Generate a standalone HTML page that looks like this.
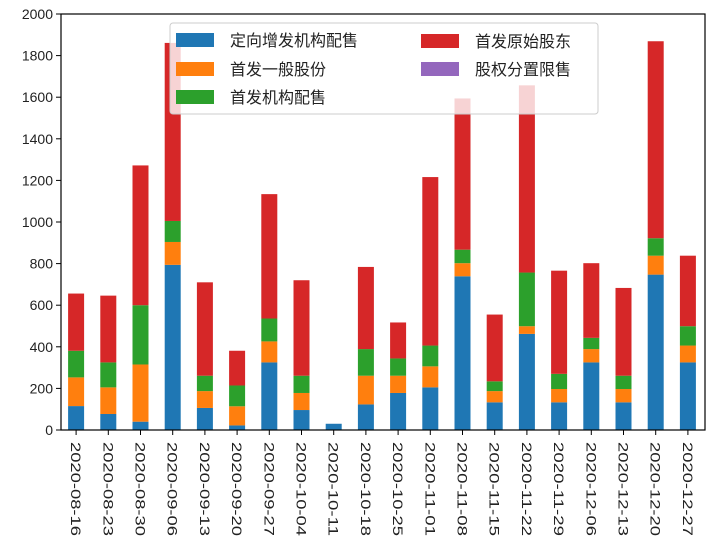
<!DOCTYPE html>
<html><head><meta charset="utf-8"><style>
body{margin:0;background:#fff;}
svg{display:block;font-family:"Liberation Sans","Noto Sans CJK SC",sans-serif;}
</style></head><body>
<svg id="chart" width="708" height="549" viewBox="0 0 708 549" xmlns="http://www.w3.org/2000/svg">
<g id="bars"></g>
<g id="axes"></g>
<g id="legend"></g>
</svg>
<script>
const categories=["2020-08-16","2020-08-23","2020-08-30","2020-09-06","2020-09-13","2020-09-20","2020-09-27","2020-10-04","2020-10-11","2020-10-18","2020-10-25","2020-11-01","2020-11-08","2020-11-15","2020-11-22","2020-11-29","2020-12-06","2020-12-13","2020-12-20","2020-12-27"];
const seriesNames=["定向增发机构配售","首发一般股份","首发机构配售","首发原始股东","股权分置限售"];
const seriesColors=["#1f77b4","#ff7f0e","#2ca02c","#d62728","#9467bd"];
const s1=[115,77,40,794,106,22,325,96,30,123,178,205,739,133,462,133,325,133,747,325];
const s2=[138,128,275,110,81,92,101,82,0,138,83,101,63,54,37,64,64,64,91,81];
const s3=[128,120,285,101,74,100,110,83,0,128,83,100,65,47,258,73,54,64,84,93];
const s4=[275,321,672,856,449,167,598,459,0,395,173,810,727,321,900,496,359,422,947,339];
const s5=[0,0,0,0,0,0,0,0,0,0,0,0,0,0,0,0,0,0,0,0];
const yTicks=[0,200,400,600,800,1000,1200,1400,1600,1800,2000];

const NS="http://www.w3.org/2000/svg";
const L=61,R=705,T=14,B=430,yMax=2000;
const y=v=>B-(v/yMax)*(B-T);
const step=(R-L)/categories.length;
const xc=i=>L+step*(i+0.5)-1;
const bw=16;
function mk(tag,attrs,parent){const e=document.createElementNS(NS,tag);for(const k in attrs)e.setAttribute(k,attrs[k]);parent.appendChild(e);return e;}
const bars=document.getElementById('bars');
const series=[s1,s2,s3,s4,s5];
categories.forEach((c,i)=>{
  let acc=0;
  series.forEach((s,k)=>{
    const v=s[i]; if(v<=0)return;
    const r=mk('rect',{x:xc(i)-bw/2,y:y(acc+v),width:bw,height:y(acc)-y(acc+v),fill:seriesColors[k]},bars);
    
    
    acc+=v;
  });
});
const ax=document.getElementById('axes');
const frame=mk('rect',{x:L,y:T,width:R-L,height:B-T,fill:'none',stroke:'#000','stroke-width':1.2},ax);


yTicks.forEach(t=>{
  mk('line',{x1:L-5,x2:L,y1:y(t),y2:y(t),stroke:'#000'},ax);
  const tx=mk('text',{x:L-8,y:y(t)+5,'text-anchor':'end','font-size':14,fill:'#222'},ax);
  tx.textContent=t;
  
  
});
categories.forEach((c,i)=>{
  mk('line',{x1:xc(i),x2:xc(i),y1:B,y2:B+5,stroke:'#000'},ax);
  const tx=mk('text',{x:0,y:0,'font-size':14,fill:'#222',transform:`translate(${xc(i)-5},${B+12}) rotate(90)`,'textLength':94,'lengthAdjust':'spacingAndGlyphs'},ax);
  tx.textContent=c;
  
  
});
const lg=document.getElementById('legend');
const box=mk('rect',{x:170,y:23,width:428,height:91,rx:3,fill:'#fff','fill-opacity':0.8,stroke:'#ccc'},lg);


const pos=[[176,40],[176,69],[176,97],[421,41],[421,69]];
seriesNames.forEach((n,k)=>{
  const [px,py]=pos[k];
  mk('rect',{x:px,y:py-7,width:38,height:14,fill:seriesColors[k]},lg);
  const tx=mk('text',{x:px+54,y:py+6,'font-size':16,fill:'#222'},lg);
  tx.textContent=n;
  
  
});
</script>
</body></html>
